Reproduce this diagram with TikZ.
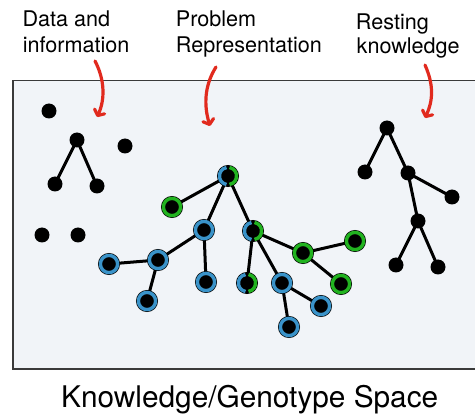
\documentclass[tikz,border=0pt]{standalone}
\usepackage{fontspec}
\setmainfont{TeX Gyre Heros}
\usetikzlibrary{arrows.meta}
\definecolor{spacefill}{HTML}{F1F4F8}
\definecolor{spaceedge}{HTML}{3A3A3A}
\definecolor{ringblue}{HTML}{3A93C9}
\definecolor{ringgreen}{HTML}{22B320}
\definecolor{pointer}{HTML}{E12A1E}
\pgfdeclarelayer{bg}
\pgfdeclarelayer{links}
\pgfsetlayers{bg,links,main}
\begin{document}
\begin{tikzpicture}[x=1pt,y=-1pt,
  dot/.style={circle, fill=black, inner sep=0pt, minimum size=15pt},
  ring/.style={circle, fill=black, inner sep=0pt, minimum size=17.2pt},
  bluering/.style={ring, preaction={draw=black, line width=4.8pt}, draw=ringblue, line width=3.4pt, outer sep=2.4pt},
  greenring/.style={ring, preaction={draw=black, line width=4.8pt}, draw=ringgreen, line width=3.4pt, outer sep=2.4pt},
  splitring/.style={ring, draw=black, line width=4.8pt},
  link/.style={line width=3pt, black},
  pointarrow/.style={pointer, line width=3.2pt, line cap=round,
    -{Straight Barb[round, length=4.5pt, width=11pt]}},
  label/.style={anchor=base west, inner sep=0pt, font=\fontsize{21.6}{25}\selectfont},
  caption/.style={anchor=base west, inner sep=0pt, font=\fontsize{29.8}{34}\selectfont}
]
\useasboundingbox (0,0) rectangle (475,417);

% the knowledge space
\begin{pgfonlayer}{bg}
  \draw[fill=spacefill, draw=spaceedge, line width=1.8pt] (13,80.5) rectangle (482,369);
\end{pgfonlayer}

% labels
\node[label] (t1a) at (22.4,27) {Data and};
\node[label] (t1b) at (22.6,52.3) {information};
\node[label] (t2a) at (175.7,27) {Problem};
\node[label] (t2b) at (175.7,52.3) {Representation};
\node[label] (t3a) at (355.7,29.3) {Resting};
\node[label] (t3b) at (356.5,54) {knowledge};
\node[caption] (cap) at (61,407.3) {Knowledge/Genotype Space};

% pointer arrows
\coordinate (a1s) at (95,61);   \coordinate (a1e) at (97,117);
\coordinate (a2s) at (216,67);  \coordinate (a2e) at (210,126);
\coordinate (a3s) at (425,65);  \coordinate (a3e) at (425,118);
\draw[pointarrow] (a1s) .. controls (105,80) and (105,100) .. (a1e);
\draw[pointarrow] (a2s) .. controls (204,86) and (204,106) .. (a2e);
\draw[pointarrow] (a3s) .. controls (434,85) and (433,101) .. (a3e);

% data and information
\node[dot] (p1) at (49,111) {};
\node[dot] (q0) at (77,140) {};
\node[dot] (p2) at (125,146) {};
\node[dot] (q1) at (55,184) {};
\node[dot] (q2) at (97,186) {};
\node[dot] (p3) at (42,235) {};
\node[dot] (p4) at (78,235) {};

% resting knowledge
\node[dot] (s0) at (387,128) {};
\node[dot] (s1) at (365,172) {};
\node[dot] (s2) at (408,173) {};
\node[dot] (s3) at (452,197) {};
\node[dot] (s4) at (418,221) {};
\node[dot] (s5) at (396,265) {};
\node[dot] (s6) at (438,267) {};

% problem representation
\node[splitring] (r)  at (228,176) {};
\node[greenring] (g1) at (172,207) {};
\node[bluering]  (a)  at (204,230) {};
\node[splitring] (b)  at (253,231) {};
\node[bluering]  (c)  at (158,260) {};
\node[bluering]  (l1) at (109,264) {};
\node[bluering]  (l2) at (147,301) {};
\node[bluering]  (l3) at (206,282) {};
\node[splitring] (h)  at (247,283) {};
\node[bluering]  (d)  at (282,283) {};
\node[greenring] (e)  at (303,253) {};
\node[greenring] (g2) at (355,241) {};
\node[greenring] (g3) at (341,284) {};
\node[bluering]  (l4) at (321,306) {};
\node[bluering]  (l5) at (289,327) {};

% two-coloured rings
\foreach \n in {r,b,h}{
  \draw[ringblue, line width=3.4pt] ([shift={(100:8.6pt)}]\n.center) arc[start angle=100, end angle=260, radius=8.6pt];
  \draw[ringgreen, line width=3.4pt] ([shift={(-80:8.6pt)}]\n.center) arc[start angle=-80, end angle=80, radius=8.6pt];
}

% connections
\begin{pgfonlayer}{links}
  \draw[link] (q0.center) -- (q1.center);
  \draw[link] (q0.center) -- (q2.center);
  \draw[link] (s0.center) -- (s1.center);
  \draw[link] (s0.center) -- (s2.center);
  \draw[link] (s2.center) -- (s3.center);
  \draw[link] (s2.center) -- (s4.center);
  \draw[link] (s4.center) -- (s5.center);
  \draw[link] (s4.center) -- (s6.center);
  \draw[link] (r.center) -- (g1.center);
  \draw[link] (r.center) -- (a.center);
  \draw[link] (r.center) -- (b.center);
  \draw[link] (a.center) -- (c.center);
  \draw[link] (a.center) -- (l3.center);
  \draw[link] (c.center) -- (l1.center);
  \draw[link] (c.center) -- (l2.center);
  \draw[link] (b.center) -- (h.center);
  \draw[link] (b.center) -- (d.center);
  \draw[link] (b.center) -- (e.center);
  \draw[link] (e.center) -- (g2.center);
  \draw[link] (e.center) -- (g3.center);
  \draw[link] (d.center) -- (l4.center);
  \draw[link] (d.center) -- (l5.center);
\end{pgfonlayer}
\end{tikzpicture}
\end{document}
